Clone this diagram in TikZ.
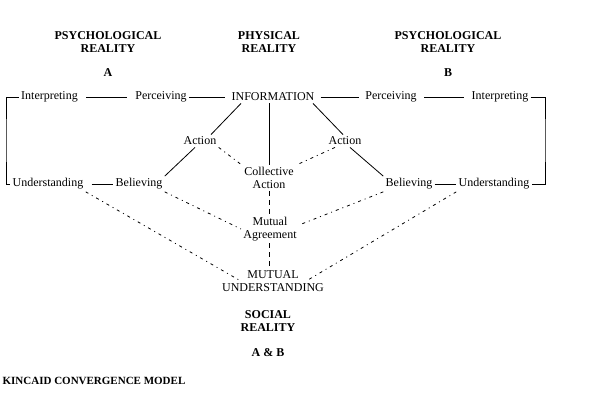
\documentclass[tikz,border=0pt]{standalone}
\usepackage{fontspec}
\setmainfont{Liberation Serif}

\begin{document}
\begin{tikzpicture}[x=1pt,y=-1pt,line width=0.8pt,
    word/.style={font=\fontsize{12}{12.5}\selectfont, align=center, inner xsep=2pt, inner ysep=2pt},
    head/.style={font=\bfseries\fontsize{12}{12.5}\selectfont, align=center},
    spare/.style={shorten <=#1, shorten >=#1},
    mutual/.style={dash pattern=on 3pt off 4pt on 1pt off 4pt},
    joint/.style={dash pattern=on 5pt off 4pt}]

    \useasboundingbox (0,0) rectangle (590,401);

    % headings
    \node[head] (psyA) at (108,42) {PSYCHOLOGICAL\\REALITY};
    \node[head] (phys) at (269,42) {PHYSICAL\\REALITY};
    \node[head] (psyB) at (448,42) {PSYCHOLOGICAL\\REALITY};
    \node[head] (sideA) at (108,73) {A};
    \node[head] (sideB) at (448,73) {B};

    % top row
    \node[word] (intA) at (49.5,97) {Interpreting};
    \node[word] (perA) at (161,97) {Perceiving};
    \node[word] (info) at (273,97) {INFORMATION};
    \node[word] (perB) at (391,97) {Perceiving};
    \node[word] (intB) at (500,97) {Interpreting};

    \node[word] (actA) at (200,141) {Action};
    \node[word] (actB) at (345,141) {Action};
    \node[word] (coll) at (269,178) {Collective\\Action};

    \node[word] (undA) at (48,184) {Understanding};
    \node[word] (belA) at (139,184) {Believing};
    \node[word] (belB) at (409,184) {Believing};
    \node[word] (undB) at (494,184) {Understanding};

    \node[word] (agr) at (270,229) {Mutual\\Agreement};
    \node[word] (mu) at (273,281) {MUTUAL\\UNDERSTANDING};

    \node[head] (soc) at (268,321) {SOCIAL\\REALITY};
    \node[head] (both) at (268,353) {A \& B};
    \node[head,font=\bfseries\fontsize{11}{12}\selectfont] (kin) at (94,381) {KINCAID CONVERGENCE MODEL};

    \coordinate (edgeA) at (6,140);
    \coordinate (edgeB) at (545,140);

    % solid links
    \draw[spare=6pt] (intA) -- (perA);
    \draw[shorten >=4pt] (perA) -- (info);
    \draw[spare=4pt] (info) -- (perB);
    \draw[spare=5pt] (perB) -- (intB);
    \draw (intA.west) -| (edgeA) |- (undA.west);
    \draw (intB.east) -| (edgeB) |- (undB.east);
    \draw[shorten <=6pt] (undA) -- (belA);
    \draw (belB) -- (undB);

    \draw ([xshift=-32pt]info.south) -- ([xshift=11pt]actA.north);
    \draw ([xshift=-5pt]actA.south) -- (belA.north east);
    \draw ([xshift=40pt]info.south) -- ([xshift=-2pt]actB.north);
    \draw ([xshift=5pt]actB.south) -- (belB.north west);
    \draw (info.south -| coll.north) -- (coll.north);

    % dashed links
    \draw[mutual] (actA.south east) -- (coll.north west);
    \draw[mutual] ([xshift=-10pt]actB.south) -- (coll.north east);
    \draw[joint] (coll.south) -- (coll.south |- agr.north);
    \draw[joint] (agr.south -| coll.south) -- (coll.south |- mu.north);
    \draw[mutual] (belA.south east) -- (agr.west);
    \draw[mutual] (belB.south west) -- ([yshift=4pt]agr.east);
    \draw[mutual] (undA.south east) -- ([xshift=21pt]mu.west);
    \draw[mutual] (undB.south west) -- ([xshift=-20pt]mu.east);

\end{tikzpicture}
\end{document}
